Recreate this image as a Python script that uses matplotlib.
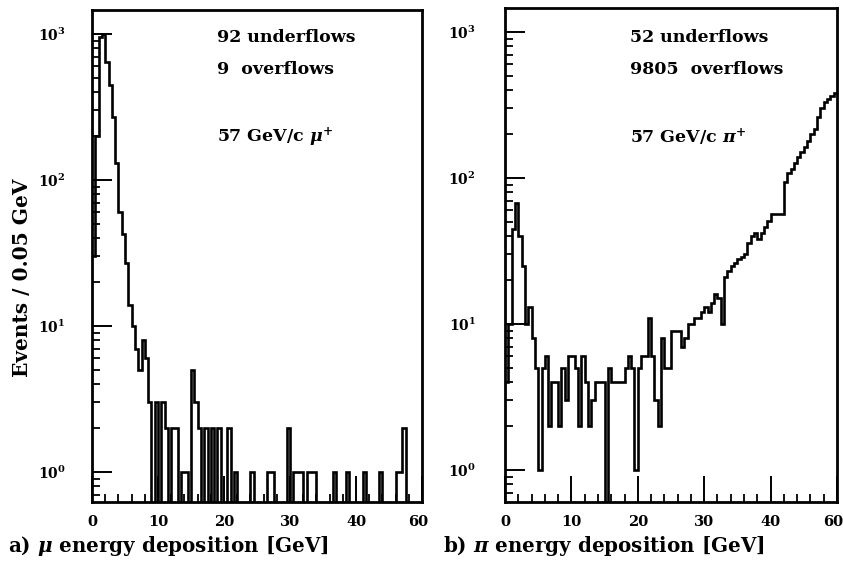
import numpy as np
import matplotlib
matplotlib.use("Agg")
import matplotlib.pyplot as plt
import matplotlib.transforms as mtransforms
from matplotlib.ticker import LogLocator, NullFormatter, FixedLocator

plt.rcParams["font.family"] = ["DejaVu Serif"]
plt.rcParams["font.weight"] = "bold"
plt.rcParams["mathtext.fontset"] = "custom"
plt.rcParams["mathtext.rm"] = "DejaVu Serif:bold"
plt.rcParams["mathtext.it"] = "DejaVu Serif:italic:bold"
plt.rcParams["mathtext.bf"] = "DejaVu Serif:bold"

# 0.5 GeV bins from 0 to 50 GeV
bin_edges = np.arange(0.0, 50.0 + 0.25, 0.5)

# a) 57 GeV/c mu+ energy deposition (events per bin)
muon_counts = [
    30, 200, 950, 1000, 640, 450, 270, 130, 60, 43,
    27, 14, 10, 7, 5, 8, 6, 3, 0, 3,
    0, 3, 2, 0, 2, 2, 0, 1, 1, 0,
    5, 3, 2, 0, 2, 0, 2, 0, 2, 0,
    0, 2, 0, 1, 0, 0, 0, 0, 1, 0,
    0, 0, 0, 1, 1, 0, 0, 0, 0, 2,
    0, 1, 1, 1, 0, 1, 1, 1, 0, 0,
    0, 0, 0, 1, 0, 0, 0, 1, 0, 0,
    0, 0, 1, 0, 0, 0, 0, 1, 0, 0,
    0, 0, 1, 1, 2, 0, 0, 0, 0, 0,
]

# b) 57 GeV/c pi+ energy deposition (events per bin)
pion_counts = [
    4, 10, 45, 67, 40, 25, 10, 13, 8, 5,
    1, 5, 6, 2, 4, 4, 2, 5, 3, 6,
    6, 5, 2, 6, 4, 2, 3, 4, 4, 4,
    0, 5, 4, 4, 4, 4, 5, 6, 5, 1,
    5, 6, 6, 11, 6, 3, 2, 8, 5, 5,
    9, 9, 9, 7, 8, 10, 10, 11, 11, 12,
    13, 12, 14, 16, 15, 10, 21, 23, 25, 26,
    28, 29, 30, 36, 40, 42, 38, 42, 46, 51,
    57, 57, 57, 57, 94, 108, 115, 127, 140, 150,
    163, 180, 200, 215, 260, 300, 330, 345, 365, 380,
]

underflows = [92, 52]
overflows = [9, 9805]
particles = [r"$\mu^{+}$", r"$\pi^{+}$"]
panel_titles = [r"a) $\mu$ energy deposition [GeV]",
                r"b) $\pi$ energy deposition [GeV]"]

x_ticks = [0, 10, 20, 30, 40, 50]
x_tick_labels = ["0", "10", "20", "30", "40", "60"]
y_ticks = [1, 10, 100, 1000]
y_tick_labels = [r"$10^{0}$", r"$10^{1}$", r"$10^{2}$", r"$10^{3}$"]

W, H = 843, 563
fig = plt.figure(figsize=(W / 100, H / 100), dpi=100)
fig.patch.set_facecolor("white")

# axes boxes in pixels: left, top, right, bottom
boxes = [(92, 10, 422, 502), (505, 8, 837, 502)]
ylims = [(0.623, 1460), (0.604, 1460)]
ypads = [19, 21]

for i, (counts, box) in enumerate(zip([muon_counts, pion_counts], boxes)):
    l, t, r, b = box
    ax = fig.add_axes([l / W, 1 - b / H, (r - l) / W, (b - t) / H])
    ax.set_yscale("log")
    ax.set_xlim(0, 50)
    ax.set_ylim(*ylims[i])

    vals = np.asarray(counts, dtype=float)
    shown = np.where(vals > 0, vals, 0.05)
    ax.stairs(shown, bin_edges, baseline=None, color="black", lw=1.9)

    for s in ax.spines.values():
        s.set_linewidth(2.0)

    ax.xaxis.set_major_locator(FixedLocator(x_ticks))
    ax.set_xticklabels(x_tick_labels)
    ax.xaxis.set_minor_locator(FixedLocator(np.arange(0, 50.1, 2)))
    ax.yaxis.set_major_locator(FixedLocator(y_ticks))
    ax.set_yticklabels(y_tick_labels)
    ax.yaxis.set_minor_locator(LogLocator(base=10, subs=np.arange(2, 10)))
    ax.yaxis.set_minor_formatter(NullFormatter())

    ax.tick_params(axis="y", which="major", direction="in", length=14.5,
                   width=1.4, pad=ypads[i], labelsize=10)
    ax.tick_params(axis="y", which="minor", direction="in", length=6,
                   width=1.3)
    ax.tick_params(axis="x", which="major", direction="in", length=19,
                   width=1.4, pad=9, labelsize=10.5)
    ax.tick_params(axis="x", which="minor", direction="in", length=6,
                   width=1.3)
    ax.tick_params(top=False, right=False, which="both")

    # nudge the end label so it stays inside the canvas
    last = ax.get_xticklabels()[-1]
    last.set_transform(last.get_transform() + mtransforms.ScaledTranslation(
        -3 / 72, 0, fig.dpi_scale_trans))

    tx = [217, 630][i]
    ax_text = dict(fontsize=12.5, fontweight="bold", va="center", ha="left")
    fig.text(tx / W, 1 - 38 / H, f"{underflows[i]} underflows", **ax_text)
    fig.text(tx / W, 1 - 69 / H, f"{overflows[i]}  overflows", **ax_text)
    fig.text(tx / W, 1 - 137 / H, f"57 GeV/c {particles[i]}", **ax_text)

fig.text(8 / W, 1 - 546 / H, panel_titles[0], fontsize=14.3, fontweight="bold",
         ha="left", va="center")
fig.text(443 / W, 1 - 546 / H, panel_titles[1], fontsize=14.3, fontweight="bold",
         ha="left", va="center")
fig.text(22 / W, 1 - 278 / H, "Events / 0.05 GeV", rotation=90, fontsize=14.5,
         fontweight="bold", ha="center", va="center")

fig.savefig("out.png", dpi=100, facecolor="white")
